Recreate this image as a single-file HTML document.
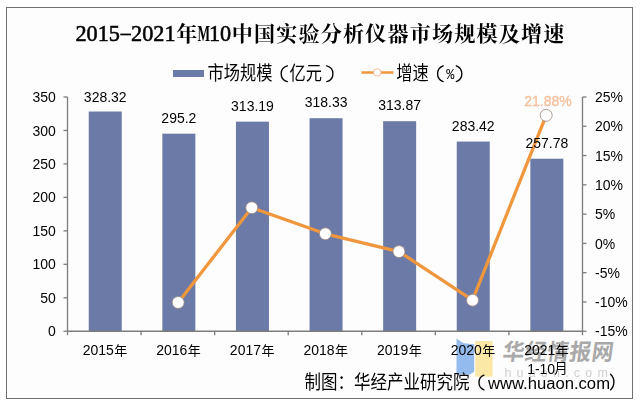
<!DOCTYPE html>
<html><head><meta charset="utf-8"><title>2015-2021年M10中国实验分析仪器市场规模及增速</title>
<style>html,body{margin:0;padding:0;background:#fff}body{width:640px;height:405px;overflow:hidden;font-family:"Liberation Sans",sans-serif}svg{display:block}</style>
</head><body>
<svg width="640" height="405" viewBox="0 0 640 405">
<defs><filter id="nf" x="-5%" y="-20%" width="110%" height="140%"><feOffset dx="0" dy="0"/></filter><filter id="bl" x="-10%" y="-30%" width="120%" height="160%"><feGaussianBlur stdDeviation="0.45"/></filter></defs>
<rect x="0" y="0" width="640" height="405" fill="#ffffff"/>
<rect x="6.5" y="7.5" width="626" height="391" fill="#fdfdfd" stroke="#707070" stroke-width="1"/>
<path d="M456.5 338.6 L463.5 343.2 L474.2 344.2 L474.2 371.5 L470 374.5 L456.5 374.2 Z" fill="#94bbee"/>
<path d="M475.3 341 L492.6 341 L492.6 376.6 L475.3 376.6 Z" fill="#fbe7a6"/>
<rect x="88.75" y="111.51" width="33.0" height="219.74" fill="#6b7aa7"/>
<rect x="162.35" y="133.68" width="33.0" height="197.57" fill="#6b7aa7"/>
<rect x="235.95" y="121.64" width="33.0" height="209.61" fill="#6b7aa7"/>
<rect x="309.55" y="118.20" width="33.0" height="213.05" fill="#6b7aa7"/>
<rect x="383.15" y="121.18" width="33.0" height="210.07" fill="#6b7aa7"/>
<rect x="456.75" y="141.56" width="33.0" height="189.69" fill="#6b7aa7"/>
<rect x="530.35" y="158.72" width="33.0" height="172.53" fill="#6b7aa7"/>
<g stroke="#7c7c7c" stroke-width="1.3" fill="none">
<line x1="67.5" y1="97.0" x2="67.5" y2="331.25"/>
<line x1="582.5" y1="97.0" x2="582.5" y2="331.25"/>
<line x1="67.5" y1="331.25" x2="582.5" y2="331.25"/>
<line x1="63.5" y1="97.00" x2="67.5" y2="97.00"/>
<line x1="63.5" y1="130.46" x2="67.5" y2="130.46"/>
<line x1="63.5" y1="163.93" x2="67.5" y2="163.93"/>
<line x1="63.5" y1="197.39" x2="67.5" y2="197.39"/>
<line x1="63.5" y1="230.86" x2="67.5" y2="230.86"/>
<line x1="63.5" y1="264.32" x2="67.5" y2="264.32"/>
<line x1="63.5" y1="297.79" x2="67.5" y2="297.79"/>
<line x1="63.5" y1="331.25" x2="67.5" y2="331.25"/>
<line x1="582.5" y1="97.00" x2="586.5" y2="97.00"/>
<line x1="582.5" y1="126.28" x2="586.5" y2="126.28"/>
<line x1="582.5" y1="155.56" x2="586.5" y2="155.56"/>
<line x1="582.5" y1="184.84" x2="586.5" y2="184.84"/>
<line x1="582.5" y1="214.12" x2="586.5" y2="214.12"/>
<line x1="582.5" y1="243.41" x2="586.5" y2="243.41"/>
<line x1="582.5" y1="272.69" x2="586.5" y2="272.69"/>
<line x1="582.5" y1="301.97" x2="586.5" y2="301.97"/>
<line x1="582.5" y1="331.25" x2="586.5" y2="331.25"/>
<line x1="67.50" y1="331.25" x2="67.50" y2="335.25"/>
<line x1="141.07" y1="331.25" x2="141.07" y2="335.25"/>
<line x1="214.64" y1="331.25" x2="214.64" y2="335.25"/>
<line x1="288.21" y1="331.25" x2="288.21" y2="335.25"/>
<line x1="361.79" y1="331.25" x2="361.79" y2="335.25"/>
<line x1="435.36" y1="331.25" x2="435.36" y2="335.25"/>
<line x1="508.93" y1="331.25" x2="508.93" y2="335.25"/>
<line x1="582.50" y1="331.25" x2="582.50" y2="335.25"/>
</g>
<g fill="#a9a9a9" transform="translate(0,360.3) skewX(-8) translate(0,-360.3)"><text transform="translate(501.85,360.30) scale(1,1.05)" font-family="Liberation Sans, Noto Sans CJK SC, sans-serif" font-weight="bold" font-size="21.7" letter-spacing="0.5">华经情报网</text></g>
<g filter="url(#nf)"><text x="504.4" y="377.2" font-family="Liberation Sans, sans-serif" font-size="12.5" letter-spacing="5.2" fill="#d0d0d0">huaon.com</text></g>
<polyline points="178.15,302.50 251.75,207.74 325.35,233.80 398.95,251.60 472.55,300.21 546.15,115.27" fill="none" stroke="#f0963c" stroke-width="3.3" stroke-linejoin="round" stroke-linecap="round"/>
<circle cx="178.15" cy="302.50" r="6" fill="#fff" stroke="#98877c" stroke-width="0.8"/>
<circle cx="251.75" cy="207.74" r="6" fill="#fff" stroke="#98877c" stroke-width="0.8"/>
<circle cx="325.35" cy="233.80" r="6" fill="#fff" stroke="#98877c" stroke-width="0.8"/>
<circle cx="398.95" cy="251.60" r="6" fill="#fff" stroke="#98877c" stroke-width="0.8"/>
<circle cx="472.55" cy="300.21" r="6" fill="#fff" stroke="#98877c" stroke-width="0.8"/>
<circle cx="546.15" cy="115.27" r="6" fill="#fff" stroke="#98877c" stroke-width="0.8"/>
<rect x="120.28" y="33.6" width="10.72" height="1.7" fill="#000"/>
<rect x="173" y="70" width="31" height="7" fill="#6b7aa7"/>
<line x1="361.5" y1="72.5" x2="393.5" y2="72.5" stroke="#f0963c" stroke-width="2.4"/>
<circle cx="377.3" cy="72.5" r="3.7" fill="#fff" stroke="#f1b48a" stroke-width="0.9"/>
<g opacity="0.999">
<text transform="translate(55.90,102.10) scale(1,1.09)" text-anchor="end" font-family="Liberation Sans, sans-serif" font-size="14" fill="#000" >350</text>
<text transform="translate(55.90,135.56) scale(1,1.09)" text-anchor="end" font-family="Liberation Sans, sans-serif" font-size="14" fill="#000" >300</text>
<text transform="translate(55.90,169.03) scale(1,1.09)" text-anchor="end" font-family="Liberation Sans, sans-serif" font-size="14" fill="#000" >250</text>
<text transform="translate(55.90,202.49) scale(1,1.09)" text-anchor="end" font-family="Liberation Sans, sans-serif" font-size="14" fill="#000" >200</text>
<text transform="translate(55.90,235.96) scale(1,1.09)" text-anchor="end" font-family="Liberation Sans, sans-serif" font-size="14" fill="#000" >150</text>
<text transform="translate(55.90,269.42) scale(1,1.09)" text-anchor="end" font-family="Liberation Sans, sans-serif" font-size="14" fill="#000" >100</text>
<text transform="translate(55.90,302.89) scale(1,1.09)" text-anchor="end" font-family="Liberation Sans, sans-serif" font-size="14" fill="#000" >50</text>
<text transform="translate(55.90,336.35) scale(1,1.09)" text-anchor="end" font-family="Liberation Sans, sans-serif" font-size="14" fill="#000" >0</text>
<text transform="translate(595.00,102.10) scale(1,1.09)" text-anchor="start" font-family="Liberation Sans, sans-serif" font-size="14" fill="#000" >25%</text>
<text transform="translate(595.00,131.38) scale(1,1.09)" text-anchor="start" font-family="Liberation Sans, sans-serif" font-size="14" fill="#000" >20%</text>
<text transform="translate(595.00,160.66) scale(1,1.09)" text-anchor="start" font-family="Liberation Sans, sans-serif" font-size="14" fill="#000" >15%</text>
<text transform="translate(595.00,189.94) scale(1,1.09)" text-anchor="start" font-family="Liberation Sans, sans-serif" font-size="14" fill="#000" >10%</text>
<text transform="translate(595.00,219.22) scale(1,1.09)" text-anchor="start" font-family="Liberation Sans, sans-serif" font-size="14" fill="#000" >5%</text>
<text transform="translate(595.00,248.51) scale(1,1.09)" text-anchor="start" font-family="Liberation Sans, sans-serif" font-size="14" fill="#000" >0%</text>
<text transform="translate(595.00,277.79) scale(1,1.09)" text-anchor="start" font-family="Liberation Sans, sans-serif" font-size="14" fill="#000" >-5%</text>
<text transform="translate(595.00,307.07) scale(1,1.09)" text-anchor="start" font-family="Liberation Sans, sans-serif" font-size="14" fill="#000" >-10%</text>
<text transform="translate(595.00,336.35) scale(1,1.09)" text-anchor="start" font-family="Liberation Sans, sans-serif" font-size="14" fill="#000" >-15%</text>
<text transform="translate(105.25,102.26) scale(1,1.09)" text-anchor="middle" font-family="Liberation Sans, sans-serif" font-size="14" fill="#000" >328.32</text>
<text transform="translate(178.85,122.93) scale(1,1.09)" text-anchor="middle" font-family="Liberation Sans, sans-serif" font-size="14" fill="#000" >295.2</text>
<text transform="translate(252.45,110.89) scale(1,1.09)" text-anchor="middle" font-family="Liberation Sans, sans-serif" font-size="14" fill="#000" >313.19</text>
<text transform="translate(326.05,107.20) scale(1,1.09)" text-anchor="middle" font-family="Liberation Sans, sans-serif" font-size="14" fill="#000" >318.33</text>
<text transform="translate(399.65,110.43) scale(1,1.09)" text-anchor="middle" font-family="Liberation Sans, sans-serif" font-size="14" fill="#000" >313.87</text>
<text transform="translate(473.25,131.31) scale(1,1.09)" text-anchor="middle" font-family="Liberation Sans, sans-serif" font-size="14" fill="#000" >283.42</text>
<text transform="translate(546.85,147.97) scale(1,1.09)" text-anchor="middle" font-family="Liberation Sans, sans-serif" font-size="14" fill="#000" >257.78</text>
<text transform="translate(82.65,354.60) scale(1,1.09)" text-anchor="start" font-family="Liberation Sans, sans-serif" font-size="14" fill="#000" >2015</text>
<text x="114.25" y="354.6" font-family="Liberation Sans, Noto Sans CJK SC, sans-serif" font-size="13" fill="#000">年</text>
<text transform="translate(156.25,354.60) scale(1,1.09)" text-anchor="start" font-family="Liberation Sans, sans-serif" font-size="14" fill="#000" >2016</text>
<text x="187.85" y="354.6" font-family="Liberation Sans, Noto Sans CJK SC, sans-serif" font-size="13" fill="#000">年</text>
<text transform="translate(229.85,354.60) scale(1,1.09)" text-anchor="start" font-family="Liberation Sans, sans-serif" font-size="14" fill="#000" >2017</text>
<text x="261.45" y="354.6" font-family="Liberation Sans, Noto Sans CJK SC, sans-serif" font-size="13" fill="#000">年</text>
<text transform="translate(303.45,354.60) scale(1,1.09)" text-anchor="start" font-family="Liberation Sans, sans-serif" font-size="14" fill="#000" >2018</text>
<text x="335.05" y="354.6" font-family="Liberation Sans, Noto Sans CJK SC, sans-serif" font-size="13" fill="#000">年</text>
<text transform="translate(377.05,354.60) scale(1,1.09)" text-anchor="start" font-family="Liberation Sans, sans-serif" font-size="14" fill="#000" >2019</text>
<text x="408.65" y="354.6" font-family="Liberation Sans, Noto Sans CJK SC, sans-serif" font-size="13" fill="#000">年</text>
<text transform="translate(450.65,354.60) scale(1,1.09)" text-anchor="start" font-family="Liberation Sans, sans-serif" font-size="14" fill="#000" >2020</text>
<text x="482.25" y="354.6" font-family="Liberation Sans, Noto Sans CJK SC, sans-serif" font-size="13" fill="#000">年</text>
<text transform="translate(524.25,354.60) scale(1,1.09)" text-anchor="start" font-family="Liberation Sans, sans-serif" font-size="14" fill="#000" >2021</text>
<text x="555.85" y="354.6" font-family="Liberation Sans, Noto Sans CJK SC, sans-serif" font-size="13" fill="#000">年</text>
<text transform="translate(527.15,373.60) scale(1,1.09)" text-anchor="start" font-family="Liberation Sans, sans-serif" font-size="14" fill="#000" >1-10</text>
<text x="554.15" y="373.4" font-family="Liberation Sans, Noto Sans CJK SC, sans-serif" font-size="13.5" fill="#000">月</text>
<text transform="translate(548.00,106.20) scale(1,1.09)" text-anchor="middle" font-family="Liberation Sans, sans-serif" font-size="14" fill="#f5c09c" filter="url(#bl)" stroke="#f5c09c" stroke-width="0.35">21.88%</text>
<text x="75.50 86.62 97.74 108.86" y="41.2" font-family="Liberation Serif, serif" font-size="22.24" fill="#000" stroke="#000" stroke-width="0.55">2015</text>
<text x="131.10 142.22 153.34 164.46" y="41.2" font-family="Liberation Serif, serif" font-size="22.24" fill="#000" stroke="#000" stroke-width="0.55">2021</text>
<text x="176.2" y="41.2" font-family="Liberation Serif, Noto Serif CJK SC, serif" font-weight="bold" font-size="21" fill="#000">年</text>
<text transform="translate(197.42,41.2) scale(0.60,1)" font-family="Liberation Serif, serif" font-weight="bold" font-size="22.24" fill="#000">M</text>
<text x="208.94 220.06" y="41.2" font-family="Liberation Serif, serif" font-size="22.24" fill="#000" stroke="#000" stroke-width="0.55">10</text>
<text x="231.8" y="41.2" font-family="Liberation Serif, Noto Serif CJK SC, serif" font-weight="bold" font-size="21" letter-spacing="1.24" fill="#000">中国实验分析仪器市场规模及增速</text>
<text transform="translate(207.6,80.3) scale(1,1.16)" font-family="Liberation Sans, Noto Sans CJK SC, sans-serif" font-size="16.25" fill="#000">市场规模</text>
<text transform="translate(289.6,80.3) scale(1,1.16)" font-family="Liberation Sans, Noto Sans CJK SC, sans-serif" font-size="16.25" fill="#000">亿元</text>
<path d="M287.32 65.80 A8.15 8.15 0 0 0 287.32 81.60" fill="none" stroke="#000" stroke-width="1.35" stroke-linecap="round"/>
<path d="M326.78 65.80 A8.15 8.15 0 0 1 326.78 81.60" fill="none" stroke="#000" stroke-width="1.35" stroke-linecap="round"/>
<text transform="translate(396.2,80.3) scale(1,1.16)" font-family="Liberation Sans, Noto Sans CJK SC, sans-serif" font-size="16.25" fill="#000">增速</text>
<path d="M443.12 65.80 A8.40 8.40 0 0 0 443.12 81.60" fill="none" stroke="#000" stroke-width="1.35" stroke-linecap="round"/>
<path d="M456.28 65.80 A8.40 8.40 0 0 1 456.28 81.60" fill="none" stroke="#000" stroke-width="1.35" stroke-linecap="round"/>
<text transform="translate(446.3,78.6) scale(1,1.05)" font-family="Liberation Mono, monospace" font-size="13.5" fill="#000">%</text>
<text transform="translate(304.6,389.3) scale(1,1.16)" font-family="Liberation Sans, Noto Sans CJK SC, sans-serif" font-size="16.5" fill="#000">制图：华经产业研究院</text>
<path d="M483.93 375.20 A7.93 7.93 0 0 0 483.93 389.90" fill="none" stroke="#000" stroke-width="1.35" stroke-linecap="round"/>
<path d="M610.57 374.30 A10.76 10.76 0 0 1 610.57 389.90" fill="none" stroke="#000" stroke-width="1.35" stroke-linecap="round"/>
<text transform="translate(487.90,388.50) scale(1,1.0)" text-anchor="start" font-family="Liberation Sans, sans-serif" font-size="16.65" fill="#000" >www.huaon.com</text>
</g>
</svg>
</body></html>
